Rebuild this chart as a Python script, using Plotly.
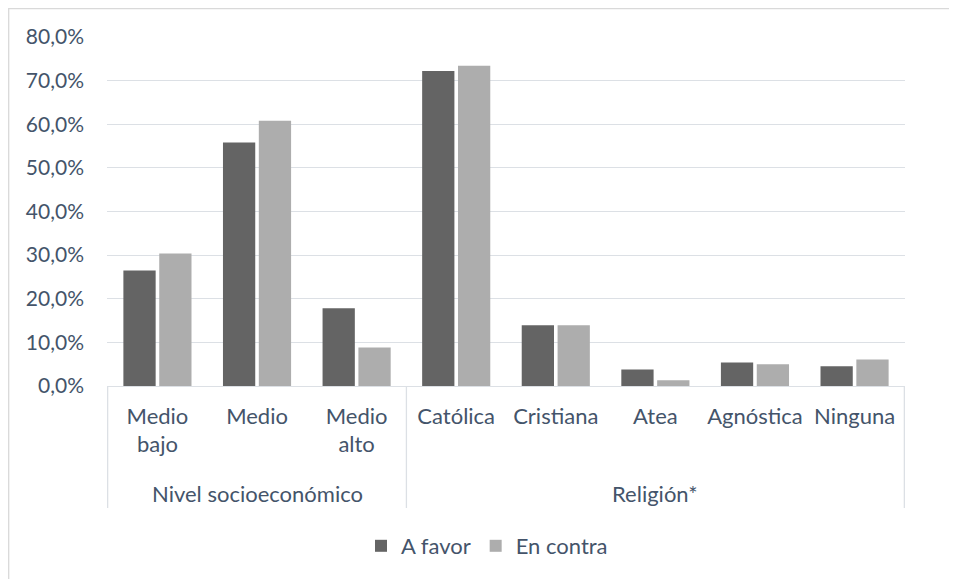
import plotly.graph_objects as go

# ---- data ----
nivel_cats = ["Medio<br>bajo", "Medio", "Medio<br>alto"]
religion_cats = ["Católica", "Cristiana", "Atea", "Agnóstica", "Ninguna"]
group_labels = ["Nivel socioeconómico", "Religión*"]
a_favor = [26.5, 55.8, 17.8, 72.2, 13.9, 3.8, 5.4, 4.5]
en_contra = [30.4, 60.8, 8.8, 73.4, 13.9, 1.3, 5.0, 6.1]
series_names = ["A favor", "En contra"]
y_ticks = [0, 10, 20, 30, 40, 50, 60, 70, 80]

categories = nivel_cats + religion_cats

TEXT = "#44546A"
GRID = "#DCE0E5"
FONT = "Lato"

OFF = 8  # page body margin
W, H = 949, 571
L, R, T, B = 99, 52, 29, 193
plot_h = H - T - B
plot_w = W - L - R

fig = go.Figure()
fig.add_trace(go.Bar(x=categories, y=[v / 100 for v in a_favor], name=series_names[0],
                     marker=dict(color="#646464", line=dict(width=0))))
fig.add_trace(go.Bar(x=categories, y=[v / 100 for v in en_contra], name=series_names[1],
                     marker=dict(color="#ADADAD", line=dict(width=0))))

def py(screen_y):
    """screen pixel y -> paper coordinate"""
    return (H - B - (screen_y - OFF)) / plot_h

def px(screen_x):
    """screen pixel x -> paper coordinate"""
    return ((screen_x - OFF) - L) / plot_w

shapes = []
bounds = [-0.5, len(nivel_cats) - 0.5, len(categories) - 0.5]
for b in bounds:
    shapes.append(dict(type="line", xref="x", yref="paper", x0=b, x1=b,
                       y0=0, y1=py(508), line=dict(color=GRID, width=1.3)))
# outer chart border (cropped on the right/bottom in the original)
shapes.append(dict(type="rect", xref="paper", yref="paper",
                   x0=px(8.7), x1=1.3, y0=py(8.7), y1=py(700),
                   line=dict(color="#D9D9D9", width=1.3), fillcolor="rgba(0,0,0,0)"))

annotations = []
group_centers = [(len(nivel_cats) - 1) / 2, len(nivel_cats) + (len(religion_cats) - 1) / 2]
for lab, cx in zip(group_labels, group_centers):
    annotations.append(dict(text=lab, x=cx, xref="x", y=py(493), yref="paper",
                            showarrow=False, yanchor="middle", xanchor="center",
                            font=dict(family=FONT, size=22, color=TEXT)))

fig.update_layout(
    width=W, height=H,
    margin=dict(l=L, r=R, t=T, b=B),
    paper_bgcolor="white", plot_bgcolor="white",
    separators=",.",
    barmode="group", bargap=0.28, bargroupgap=0.1,
    font=dict(family=FONT, size=22, color=TEXT),
    showlegend=True,
    legend=dict(orientation="h", x=px(361), xanchor="left", y=py(546), yanchor="middle",
                font=dict(family=FONT, size=22, color=TEXT),
                itemwidth=30, traceorder="normal", itemclick=False),
    shapes=shapes,
    annotations=annotations,
)
fig.update_xaxes(type="category", showgrid=False, showline=True, linecolor=GRID, linewidth=1.3,
                 ticks="", ticklabelstandoff=10, tickangle=0,
                 tickfont=dict(family=FONT, size=22, color=TEXT))
fig.update_yaxes(range=[0, 0.8], tickvals=[v / 100 for v in y_ticks], tickformat=".1%",
                 showgrid=True, gridcolor=GRID, gridwidth=1.3,
                 zeroline=True, zerolinecolor=GRID, zerolinewidth=1.3,
                 showline=False, ticks="", ticklabelstandoff=22,
                 tickfont=dict(family=FONT, size=21, color=TEXT))

fig.write_html("out.html")
